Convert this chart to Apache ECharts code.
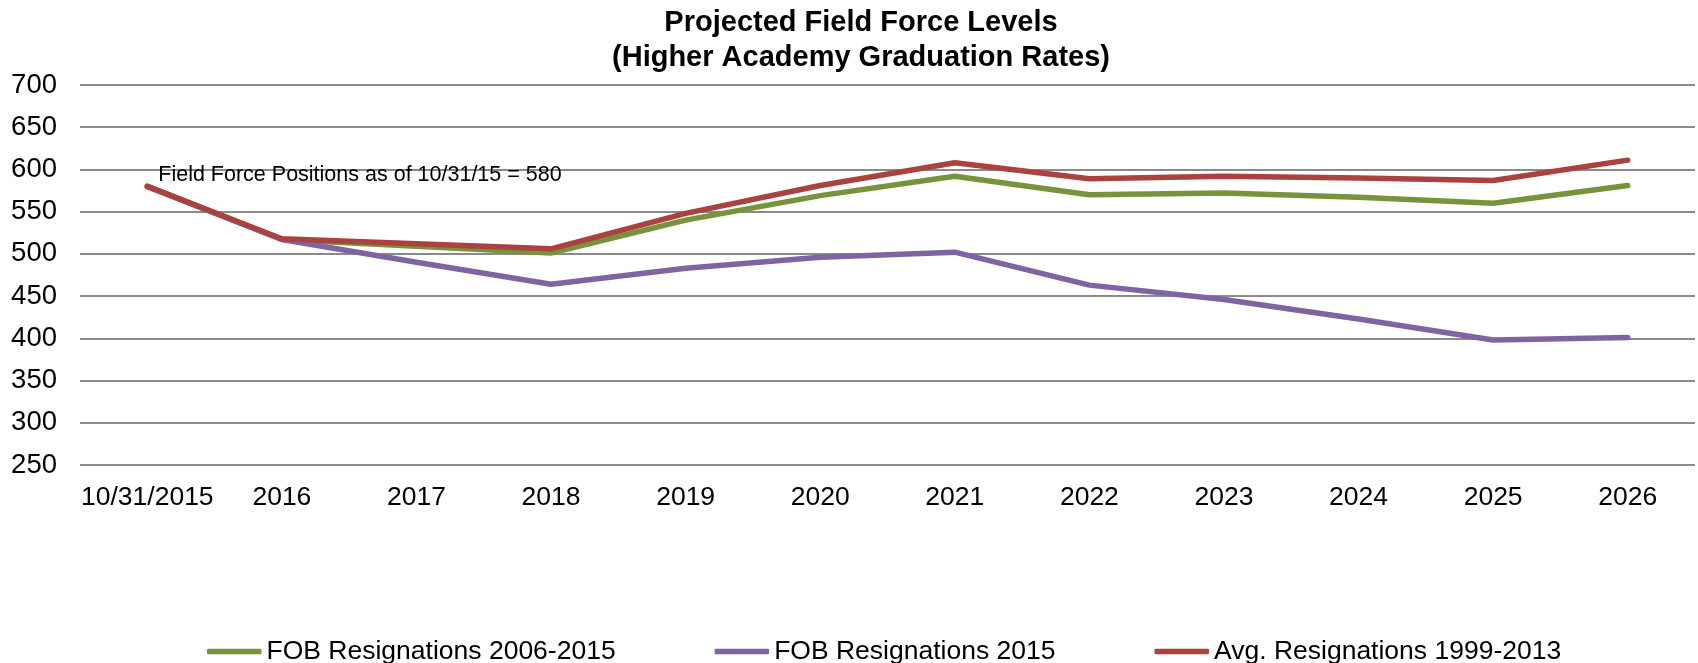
<!DOCTYPE html>
<html>
<head>
<meta charset="utf-8">
<script src="https://cdn.jsdelivr.net/npm/echarts@6/dist/echarts.min.js"></script>
<style>
html,body{margin:0;padding:0;background:#fff;}
#chart{width:1698px;height:663px;}
</style>
</head>
<body>
<div id="chart"></div>
<script>
const categories = ['10/31/2015','2016','2017','2018','2019','2020','2021','2022','2023','2024','2025','2026'];
const fob20062015 = [580, 517, 509, 501, 540, 569, 592, 570, 572, 567, 560, 581];
const fob2015 = [580, 517, 490, 464, 483, 496, 502, 463, 446, 423, 398, 401];
const avg19992013 = [580, 518, 512, 506, 548, 581, 608, 589, 592, 590, 587, 611];
const seriesNames = ['FOB Resignations 2006-2015', 'FOB Resignations 2015', 'Avg. Resignations 1999-2013'];
const yTicks = {min: 250, max: 700, interval: 50};
const annotationText = 'Field Force Positions as of 10/31/15 = 580';
const annotationValue = 580;

const FONT = 'Liberation Sans, Arial, sans-serif';
const colors = ['#77933C', '#8064A2', '#AA423F'];

const chart = echarts.init(document.getElementById('chart'), null, {renderer: 'canvas'});

function lineSeries(name, data, color, extra) {
  return Object.assign({
    name: name,
    type: 'line',
    data: data,
    showSymbol: false,
    symbol: 'none',
    animation: false,
    lineStyle: {color: color, width: 5.5, cap: 'round', join: 'round'},
    itemStyle: {color: color}
  }, extra || {});
}

chart.setOption({
  animation: false,
  backgroundColor: '#ffffff',
  title: {
    text: 'Projected Field Force Levels\n(Higher Academy Graduation Rates)',
    left: 861,
    textAlign: 'center',
    top: 5,
    padding: 0,
    textStyle: {fontFamily: FONT, fontSize: 29, fontWeight: 'bold', color: '#000', lineHeight: 35}
  },
  legend: {
    left: 202,
    top: 633,
    itemWidth: 54.5,
    itemHeight: 5.5,
    itemGap: 99,
    icon: 'roundRect',
    textStyle: {fontFamily: FONT, fontSize: 26.5, color: '#000'},
    data: seriesNames
  },
  grid: {left: 80, right: 3, top: 85, bottom: 198, containLabel: false},
  xAxis: {
    type: 'category',
    data: categories,
    boundaryGap: true,
    axisLine: {show: false},
    axisTick: {show: false},
    axisLabel: {fontFamily: FONT, fontSize: 26.5, color: '#000', margin: 19, interval: 0}
  },
  yAxis: {
    type: 'value',
    min: yTicks.min,
    max: yTicks.max,
    interval: yTicks.interval,
    axisLine: {show: false},
    axisTick: {show: false},
    axisLabel: {fontFamily: FONT, fontSize: 27.5, color: '#000', margin: 23},
    splitLine: {lineStyle: {color: '#8a8a8a', width: 2}}
  },
  series: [
    lineSeries(seriesNames[0], fob20062015, colors[0]),
    lineSeries(seriesNames[1], fob2015, colors[1]),
    lineSeries(seriesNames[2], avg19992013, colors[2], {
      markPoint: {
        symbol: 'circle',
        symbolSize: 0,
        silent: true,
        animation: false,
        data: [{
          coord: [0, annotationValue],
          label: {
            show: true,
            formatter: annotationText,
            position: 'right',
            distance: 0,
            offset: [11, -11],
            fontFamily: FONT,
            fontSize: 21.5,
            color: '#000'
          }
        }]
      }
    })
  ]
});
</script>
</body>
</html>
